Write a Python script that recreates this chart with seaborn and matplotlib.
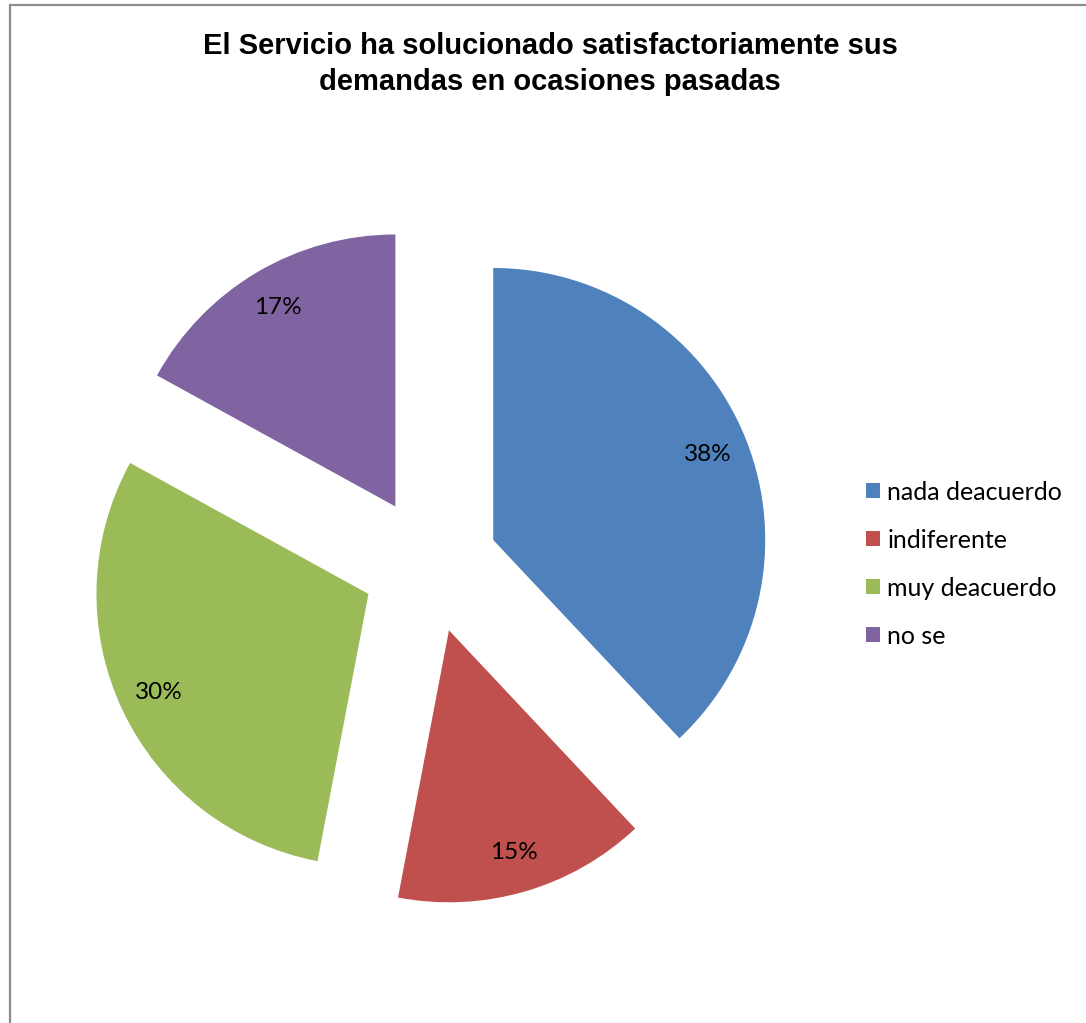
import matplotlib
matplotlib.use("Agg")
import matplotlib.pyplot as plt
from matplotlib.patches import Patch, Rectangle
import seaborn as sns

# Survey answers and their shares (percent)
categories = ["nada deacuerdo", "indiferente", "muy deacuerdo", "no se"]
shares = [38, 15, 30, 17]
slice_colors = ["#4F81BD", "#C0504D", "#9BBB59", "#8064A2"]
title = "El Servicio ha solucionado satisfactoriamente sus\ndemandas en ocasiones pasadas"

sns.set_theme(style="white")
plt.rcParams["font.family"] = ["Lato", "DejaVu Sans"]
plt.rcParams["text.color"] = "black"
palette = sns.color_palette(slice_colors)

W, H = 1086, 1023
fig = plt.figure(figsize=(W / 100, H / 100), dpi=100)
fig.patch.set_facecolor("white")

# Chart-area frame (left and top edges visible)
fig.add_artist(Rectangle((10 / W, -0.1), 1.2, (H - 5) / H + 0.1,
                         transform=fig.transFigure, fill=False,
                         edgecolor="#8c8c8c", linewidth=1.6))

# Square axes: pie centre near (430, 565) px, radius 272 px
cx, cy, r = 430, 565, 272
half = 1.4 * r
ax = fig.add_axes([(cx - half) / W, (H - cy - half) / H, 2 * half / W, 2 * half / H])

wedges, texts, autotexts = ax.pie(
    shares,
    colors=palette,
    startangle=90,
    counterclock=False,
    explode=[0.25] * len(shares),
    autopct="%1.0f%%",
    pctdistance=0.85,
    wedgeprops=dict(linewidth=0),
    textprops=dict(fontsize=17.5, color="black"),
)
ax.set_xlim(-1.4, 1.4)
ax.set_ylim(-1.4, 1.4)
ax.set_aspect("equal")
ax.axis("off")

fig.text(550 / W, 1 - 64 / H, title, ha="center", va="center",
         fontsize=21, fontweight="bold", color="black",
         family=["Liberation Sans", "DejaVu Sans"], linespacing=1.35)

handles = [Patch(facecolor=c, edgecolor="none") for c in palette]
leg = fig.legend(handles, categories, loc="center left",
                 bbox_to_anchor=(856 / W, 1 - 564 / H), frameon=False,
                 fontsize=18, handlelength=0.55, handleheight=0.55,
                 handletextpad=0.3, labelspacing=1.0, borderaxespad=0)
for t in leg.get_texts():
    t.set_color("black")

fig.savefig("out.png", dpi=100, facecolor="white")
